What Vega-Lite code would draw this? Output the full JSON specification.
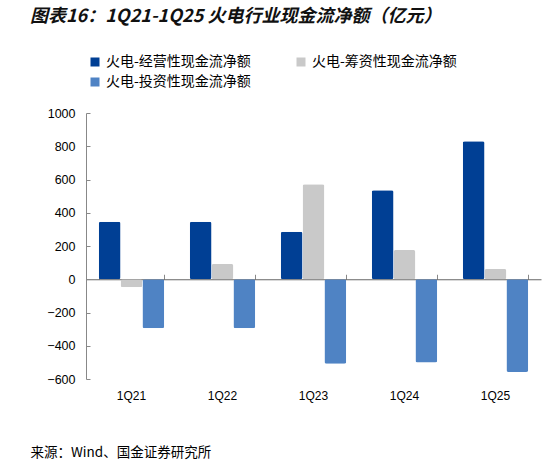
{
  "$schema": "https://vega.github.io/schema/vega-lite/v6.json",
  "width": 455,
  "height": 266,
  "autosize": {"type": "none"},
  "padding": {"left": 86, "top": 113, "right": 16, "bottom": 86},
  "background": "white",
  "title": {
    "text": "图表16：1Q21-1Q25 火电行业现金流净额（亿元）",
    "anchor": "start",
    "frame": "group",
    "orient": "top",
    "dx": -56,
    "offset": 29,
    "font": "Noto Sans CJK SC",
    "fontSize": 18,
    "fontWeight": "bold",
    "fontStyle": "italic",
    "color": "#111111"
  },
  "config": {
    "view": {"stroke": null},
    "font": "Noto Sans CJK SC"
  },
  "data": {
    "values": [
      {"quarter": "1Q21", "type": "火电-经营性现金流净额", "value": 346},
      {"quarter": "1Q21", "type": "火电-筹资性现金流净额", "value": -48},
      {"quarter": "1Q21", "type": "火电-投资性现金流净额", "value": -294},
      {"quarter": "1Q22", "type": "火电-经营性现金流净额", "value": 346},
      {"quarter": "1Q22", "type": "火电-筹资性现金流净额", "value": 92},
      {"quarter": "1Q22", "type": "火电-投资性现金流净额", "value": -294},
      {"quarter": "1Q23", "type": "火电-经营性现金流净额", "value": 286},
      {"quarter": "1Q23", "type": "火电-筹资性现金流净额", "value": 572},
      {"quarter": "1Q23", "type": "火电-投资性现金流净额", "value": -508},
      {"quarter": "1Q24", "type": "火电-经营性现金流净额", "value": 536},
      {"quarter": "1Q24", "type": "火电-筹资性现金流净额", "value": 176},
      {"quarter": "1Q24", "type": "火电-投资性现金流净额", "value": -500},
      {"quarter": "1Q25", "type": "火电-经营性现金流净额", "value": 830},
      {"quarter": "1Q25", "type": "火电-筹资性现金流净额", "value": 62},
      {"quarter": "1Q25", "type": "火电-投资性现金流净额", "value": -558}
    ]
  },
  "resolve": {"axis": {"x": "independent", "y": "independent"}},
  "layer": [
    {
      "mark": {"type": "bar", "cornerRadius": 2},
      "encoding": {
        "x": {
          "field": "quarter",
          "type": "nominal",
          "sort": ["1Q21", "1Q22", "1Q23", "1Q24", "1Q25"],
          "scale": {"paddingInner": 0.28, "paddingOuter": 0.14},
          "axis": {
            "orient": "bottom",
            "domain": false,
            "ticks": false,
            "labelAngle": 0,
            "labelPadding": 11,
            "labelFont": "Liberation Sans",
            "labelFontSize": 12,
            "labelColor": "#000000",
            "title": "来源：Wind、国金证券研究所",
            "titleFont": "Noto Sans CJK SC",
            "titleFontSize": 13.5,
            "titleFontWeight": "normal",
            "titleColor": "#000000",
            "titleAnchor": "start",
            "titleAlign": "left",
            "titleBaseline": "middle",
            "titleX": -56,
            "titleY": 73
          }
        },
        "xOffset": {
          "field": "type",
          "type": "nominal",
          "sort": ["火电-经营性现金流净额", "火电-筹资性现金流净额", "火电-投资性现金流净额"],
          "scale": {"paddingInner": 0, "paddingOuter": 0}
        },
        "y": {
          "field": "value",
          "type": "quantitative",
          "scale": {"domain": [-600, 1000], "nice": false, "zero": true},
          "axis": {
            "values": [-600, -400, -200, 0, 200, 400, 600, 800, 1000],
            "format": "d",
            "labelOverlap": false,
            "grid": false,
            "title": null,
            "tickSize": -4,
            "tickColor": "#888888",
            "domainColor": "#888888",
            "labelPadding": 15,
            "labelFont": "Liberation Sans",
            "labelFontSize": 12.5,
            "labelColor": "#000000"
          }
        },
        "color": {
          "field": "type",
          "type": "nominal",
          "sort": ["火电-经营性现金流净额", "火电-筹资性现金流净额", "火电-投资性现金流净额"],
          "scale": {
            "domain": ["火电-经营性现金流净额", "火电-筹资性现金流净额", "火电-投资性现金流净额"],
            "range": ["#003F94", "#C9C9C9", "#4F83C4"]
          },
          "legend": {
            "title": null,
            "orient": "none",
            "legendX": 2,
            "legendY": -58,
            "direction": "horizontal",
            "columns": 2,
            "columnPadding": 43,
            "rowPadding": 6,
            "symbolType": "square",
            "symbolSize": 81,
            "symbolStrokeWidth": 0,
            "labelFont": "Noto Sans CJK SC",
            "labelFontSize": 14,
            "labelColor": "#000000",
            "labelOffset": 4,
            "labelLimit": 300
          }
        }
      }
    },
    {
      "mark": {"type": "rule", "strokeOpacity": 0},
      "encoding": {
        "x": {
          "field": "quarter",
          "type": "nominal",
          "sort": ["1Q21", "1Q22", "1Q23", "1Q24", "1Q25"],
          "axis": {
            "orient": "bottom",
            "offset": -99.75,
            "labels": false,
            "title": null,
            "domain": true,
            "domainColor": "#666666",
            "ticks": true,
            "tickBand": "extent",
            "tickSize": -5,
            "tickColor": "#888888"
          }
        },
        "y": {"datum": 0, "type": "quantitative", "axis": null},
        "y2": {"datum": 0}
      }
    }
  ]
}
